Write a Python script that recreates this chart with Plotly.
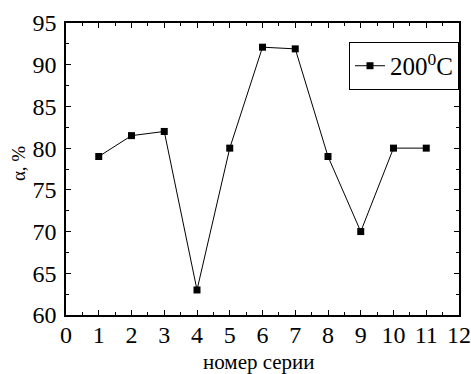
import plotly.graph_objects as go

series_x = [1, 2, 3, 4, 5, 6, 7, 8, 9, 10, 11]
alpha_200 = [79.0, 81.5, 82.0, 63.0, 80.0, 92.1, 91.9, 79.0, 70.0, 80.0, 80.0]
series_name = "200<sup>0</sup>C"
x_title = "номер серии"
y_title = "α, %"

fig = go.Figure()
fig.add_trace(go.Scatter(
    x=series_x, y=alpha_200, mode="lines+markers", name=series_name,
    line=dict(color="black", width=1),
    marker=dict(symbol="square", size=7, color="black"),
))

font = "Times New Roman, Liberation Serif, serif"
fig.update_layout(
    width=471, height=374,
    margin=dict(l=66, r=12, t=23, b=59),
    paper_bgcolor="white", plot_bgcolor="white",
    font=dict(family=font, color="black", size=24),
    showlegend=True,
    legend=dict(x=1.0, y=0.935, xanchor="right", yanchor="top",
                bordercolor="black", borderwidth=1, bgcolor="white",
                font=dict(size=25, family=font, color="black"), itemwidth=30,
                tracegroupgap=0),
    annotations=[
        dict(text=x_title, xref="paper", yref="paper", x=0.491, y=-0.161,
             xanchor="center", yanchor="middle", showarrow=False,
             font=dict(family=font, size=21, color="black")),
        dict(text=y_title, xref="paper", yref="paper", x=-0.122, y=0.517,
             xanchor="center", yanchor="middle", showarrow=False, textangle=-90,
             font=dict(family=font, size=19, color="black")),
    ],
)
fig.update_xaxes(
    range=[0, 12], tickmode="linear", tick0=0, dtick=1, automargin=False,
    ticks="inside", ticklen=5, tickwidth=1, tickcolor="black",
    tickfont=dict(family=font, size=24, color="black"), ticklabelstandoff=-3,
    minor=dict(ticks="inside", ticklen=3, dtick=0.5, tickcolor="black"),
    showline=True, linecolor="black", linewidth=1.5, mirror="allticks",
    showgrid=False, zeroline=False,
)
fig.update_yaxes(
    range=[60, 95], tickmode="linear", tick0=60, dtick=5, automargin=False,
    ticks="inside", ticklen=5, tickwidth=1, tickcolor="black",
    tickfont=dict(family=font, size=24, color="black"), ticklabelstandoff=3,
    minor=dict(ticks="inside", ticklen=3, dtick=2.5, tickcolor="black"),
    showline=True, linecolor="black", linewidth=1.5, mirror="allticks",
    showgrid=False, zeroline=False,
)
fig.write_html("out.html")
